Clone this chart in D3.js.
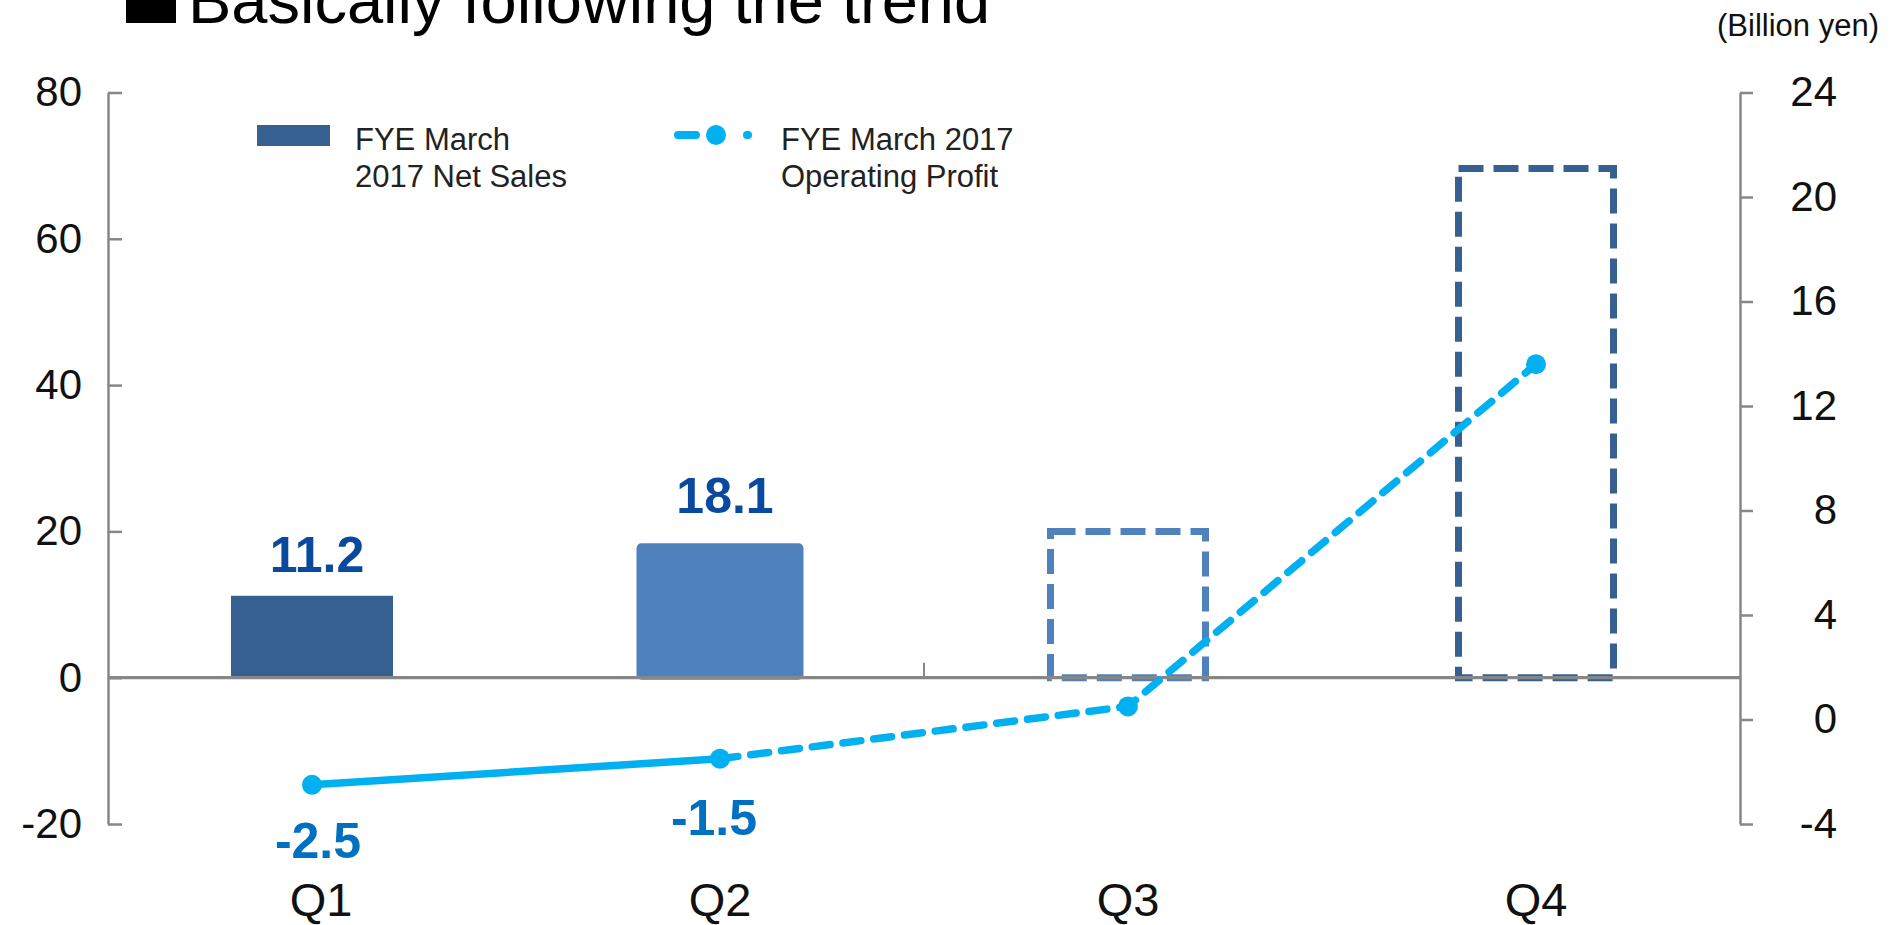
<!DOCTYPE html>
<html>
<head>
<meta charset="utf-8">
<script src="https://cdn.jsdelivr.net/npm/d3@7"></script>
<style>
  body { margin: 0; background: #fff; }
  svg text { font-family: "Liberation Sans", Arial, sans-serif; }
</style>
</head>
<body>
<svg width="1899" height="925"></svg>
<script>
const quarters = ['Q1', 'Q2', 'Q3', 'Q4'];
const netSales = [11.2, 18.1, 20, 69.6];
const salesForecast = [false, false, true, true];
const salesLabels = ['11.2', '18.1', null, null];
const opProfit = [-2.5, -1.5, 0.5, 13.6];
const profitLabels = ['-2.5', '-1.5', null, null];
const leftTicks = [-20, 0, 20, 40, 60, 80];
const rightTicks = [-4, 0, 4, 8, 12, 16, 20, 24];

const svg = d3.select('svg');
const dark = '#376092', light = '#4f81bd', cyan = '#00b0f0', grey = '#878787';
const barColors = [dark, light, light, dark];

const x = d3.scaleBand().domain(quarters).range([108, 1740]);
const yL = d3.scaleLinear().domain([-20, 80]).range([824, 92.5]);
const yR = d3.scaleLinear().domain([-4, 24]).range([824, 92.5]);
const cx = q => x(q) + x.bandwidth() / 2;
const barW = 162;

// title (cut by the top edge, as in the slide)
svg.append('rect').attr('x', 126).attr('y', -28).attr('width', 50).attr('height', 51).attr('fill', '#000');
svg.append('text').attr('x', 188).attr('y', 23).attr('font-size', 65).attr('fill', '#000')
    .text('Basically following the trend');
svg.append('text').attr('x', 1879).attr('y', 36).attr('font-size', 31).attr('text-anchor', 'end')
    .attr('fill', '#111').text('(Billion yen)');

// axes
const fmt = d => String(d);
const axL = svg.append('g').attr('transform', 'translate(108,0)')
    .call(d3.axisLeft(yL).tickValues(leftTicks).tickFormat(fmt).tickSizeInner(-14).tickSizeOuter(0).tickPadding(26));
const axR = svg.append('g').attr('transform', 'translate(1740,0)')
    .call(d3.axisRight(yR).tickValues(rightTicks).tickFormat(fmt).tickSizeInner(13).tickSizeOuter(0));
[axL, axR].forEach(a => {
    a.select('.domain').attr('stroke', grey).attr('stroke-width', 2.5);
    a.selectAll('.tick line').attr('stroke', grey).attr('stroke-width', 2.5);
    a.selectAll('.tick text').attr('font-size', 42).attr('fill', '#111')
        .style('font-family', '"Liberation Sans", Arial, sans-serif');
});
axR.selectAll('.tick text').attr('text-anchor', 'end').attr('x', 97);

// bars
const bars = svg.append('g');
quarters.forEach((q, i) => {
    const col = barColors[i];
    if (!salesForecast[i]) {
        // Q2 bar has an outline of its own colour, so it looks a little wider
        const sw = i === 1 ? 4 : 0;
        const w = i === 1 ? barW + 5 : barW;
        bars.append('rect')
            .attr('x', cx(q) - w / 2 + sw / 2)
            .attr('y', yL(netSales[i]))
            .attr('width', w - sw)
            .attr('height', yL(0) - yL(netSales[i]))
            .attr('rx', i === 1 ? 3 : 0)
            .attr('fill', col)
            .attr('stroke', sw ? col : 'none')
            .attr('stroke-width', sw);
    } else {
        bars.append('rect')
            .attr('x', cx(q) - barW / 2 + 3.5)
            .attr('y', yL(netSales[i]))
            .attr('width', barW - 7)
            .attr('height', yL(0) - yL(netSales[i]))
            .attr('fill', 'none')
            .attr('stroke', col)
            .attr('stroke-width', 7)
            .attr('stroke-dasharray', '25,10');
    }
});

// zero line and category tick
svg.append('line').attr('x1', 108).attr('x2', 1740).attr('y1', yL(0)).attr('y2', yL(0))
    .attr('stroke', grey).attr('stroke-width', 3.2);
svg.append('line').attr('x1', x('Q3')).attr('x2', x('Q3')).attr('y1', yL(0)).attr('y2', yL(0) - 15)
    .attr('stroke', grey).attr('stroke-width', 2);

// bar labels
svg.append('g').selectAll('text')
    .data(quarters.filter((q, i) => salesLabels[i]))
    .join('text')
        .attr('x', q => cx(q) + 5)
        .attr('y', (q, i) => yL(netSales[i]) - (i === 1 ? 32 : 24))
        .attr('text-anchor', 'middle')
        .attr('font-size', 50).attr('font-weight', 'bold').attr('fill', '#0a4a9e')
        .text((q, i) => salesLabels[i]);

// operating profit line
const line = d3.line().x(d => cx(d.q)).y(d => yR(d.v));
const pts = quarters.map((q, i) => ({ q, v: opProfit[i] }));
svg.append('path').attr('d', line(pts.slice(0, 2)))
    .attr('fill', 'none').attr('stroke', cyan).attr('stroke-width', 7.5);
svg.append('path').attr('d', line(pts.slice(1)))
    .attr('fill', 'none').attr('stroke', cyan).attr('stroke-width', 7.5)
    .attr('stroke-dasharray', '18,13').attr('stroke-linecap', 'round');
svg.append('g').selectAll('circle')
    .data(pts)
    .join('circle')
        .attr('cx', d => cx(d.q))
        .attr('cy', d => yR(d.v))
        .attr('r', 10)
        .attr('fill', cyan);

// profit labels
const profitDx = [6, -6];
svg.append('g').selectAll('text')
    .data(pts.filter((d, i) => profitLabels[i]))
    .join('text')
        .attr('x', (d, i) => cx(d.q) + profitDx[i])
        .attr('y', (d, i) => yR(d.v) + (i === 0 ? 73 : 76))
        .attr('text-anchor', 'middle')
        .attr('font-size', 50).attr('font-weight', 'bold').attr('fill', '#0070c0')
        .text((d, i) => profitLabels[i]);

// category labels
svg.append('g').selectAll('text')
    .data(quarters)
    .join('text')
        .attr('x', (q, i) => cx(q) + (i === 0 ? 9 : 0))
        .attr('y', 916)
        .attr('text-anchor', 'middle')
        .attr('font-size', 47).attr('fill', '#111')
        .text(q => q);

// legend
const lg = svg.append('g');
lg.append('rect').attr('x', 257).attr('y', 125).attr('width', 73).attr('height', 21).attr('fill', dark);
lg.append('text').attr('font-size', 31).attr('fill', '#222')
    .selectAll('tspan').data(['FYE March', '2017 Net Sales']).join('tspan')
        .attr('x', 355).attr('y', (d, i) => 150 + i * 37).text(d => d);
lg.append('line').attr('x1', 678).attr('x2', 752).attr('y1', 135).attr('y2', 135)
    .attr('stroke', cyan).attr('stroke-width', 8).attr('stroke-linecap', 'round')
    .attr('stroke-dasharray', '18,51,1,100');
lg.append('circle').attr('cx', 716).attr('cy', 135).attr('r', 10).attr('fill', cyan);
lg.append('text').attr('font-size', 31).attr('fill', '#222')
    .selectAll('tspan').data(['FYE March 2017', 'Operating Profit']).join('tspan')
        .attr('x', 781).attr('y', (d, i) => 150 + i * 37).text(d => d);
</script>
</body>
</html>
